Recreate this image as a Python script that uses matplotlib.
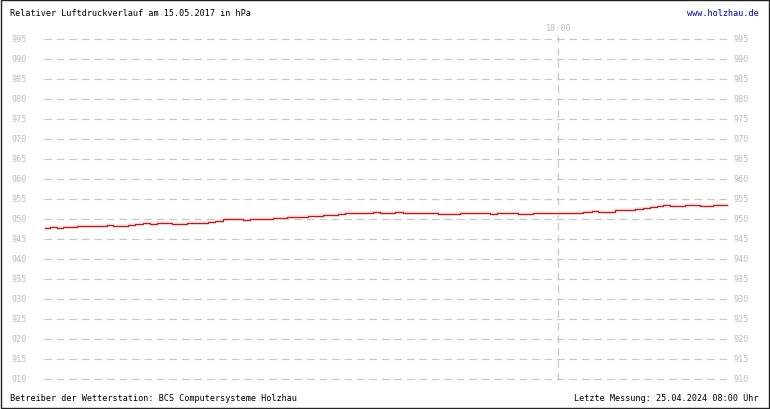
import matplotlib
matplotlib.use('Agg')
import matplotlib.pyplot as plt
from matplotlib.patches import Rectangle

# Luftdruck 15.05.2017, Stufen (Stunde, hPa)
hours = [0.00, 0.18, 0.41, 0.64, 1.11, 2.16, 2.40, 2.92, 3.16, 3.45, 3.68, 3.92,
         4.45, 4.97, 5.73, 5.96, 6.26, 6.96, 7.19, 8.01, 8.48, 9.24, 9.76, 10.29,
         10.53, 11.52, 11.75, 12.28, 12.57, 13.80, 14.56, 15.61, 15.85, 16.61, 17.13,
         18.89, 19.18, 19.41, 20.00, 20.70, 20.99, 21.23, 21.46, 21.69, 21.93, 22.46,
         22.98, 23.45, 23.92]
hpa = [947.7, 947.9, 947.7, 947.9, 948.25, 948.5, 948.25, 948.5, 948.8, 949.0, 948.8, 949.0,
       948.8, 949.0, 949.25, 949.5, 949.9, 949.7, 949.9, 950.2, 950.4, 950.75, 951.0, 951.25,
       951.5, 951.75, 951.5, 951.75, 951.5, 951.25, 951.5, 951.25, 951.5, 951.25, 951.5,
       951.75, 952.0, 951.75, 952.25, 952.5, 952.75, 953.0, 953.25, 953.5, 953.25, 953.5,
       953.25, 953.5, 953.5]
yticks = list(range(910, 1000, 5))
mark_hour = 18
mark_label = '18:00'

title = 'Relativer Luftdruckverlauf am 15.05.2017 in hPa'
site = 'www.holzhau.de'
footer_left = 'Betreiber der Wetterstation: BCS Computersysteme Holzhau'
footer_right = 'Letzte Messung: 25.04.2024 08:00 Uhr'

W, H = 770, 410
font = 'DejaVu Sans Mono'
fs = 6.1
grey = '#bdbdbd'

fig = plt.figure(figsize=(W / 100, H / 100), dpi=100)
fig.patch.set_facecolor('white')

# axes: px 44..730 horizontally, px 33..385 vertically
ax = fig.add_axes([44 / W, 1 - 385 / H, (730 - 44) / W, (385 - 33) / H])
ax.set_xlim(-1 / 28.5, 685 / 28.5)
ax.set_ylim(910 - 5 / 4, 995 + 7 / 4)
for s in ax.spines.values():
    s.set_visible(False)
ax.set_xticks([])
ax.set_yticks([])

for v in yticks:
    ax.axhline(v, color='#c8c8c8', lw=0.9, dashes=(6, 4), zorder=1)
ax.axvline(mark_hour, ymin=0.01, ymax=0.99, color='#c8c8c8', lw=0.9, dashes=(6, 4), zorder=1)

ax.plot(hours, hpa, color='#fde4e4', lw=2.6, drawstyle='steps-post', zorder=2)
ax.plot(hours, hpa, color='#b81c1c', lw=0.9, drawstyle='steps-post', zorder=3)

trans_l = ax.get_yaxis_transform()
for v in yticks:
    ax.text(-32 / 686, v, str(v), transform=trans_l, ha='left', va='center',
            fontsize=fs, family=font, color=grey)
    ax.text(1 + 4 / 686, v, str(v), transform=trans_l, ha='left', va='center',
            fontsize=fs, family=font, color=grey)

ax.text(mark_hour, 1.0, mark_label, transform=ax.get_xaxis_transform(), ha='center',
        va='bottom', fontsize=fs, family=font, color=grey)

fig.text(10 / W, 1 - 14 / H, title, ha='left', va='center', fontsize=fs, family=font, color='black')
fig.text(759 / W, 1 - 14 / H, site, ha='right', va='center', fontsize=fs, family=font, color='#0000a8')
fig.text(10 / W, 1 - 399 / H, footer_left, ha='left', va='center', fontsize=fs, family=font, color='black')
fig.text(759 / W, 1 - 399 / H, footer_right, ha='right', va='center', fontsize=fs, family=font, color='black')

fig.patches.append(Rectangle((1 / W, 1 / H), (W - 2) / W, (H - 2) / H, transform=fig.transFigure,
                             fill=False, edgecolor='#222222', lw=1.0))

fig.savefig('out.png', dpi=100)
